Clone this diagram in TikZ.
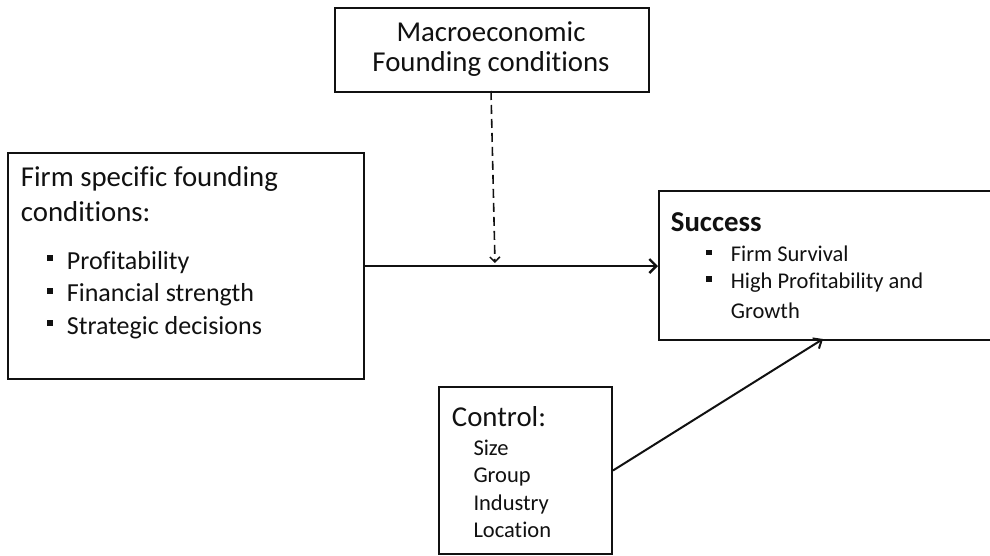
\documentclass[tikz,border=0pt]{standalone}
\usepackage{fontspec}
\setmainfont{Carlito}[Ligatures=NoCommon]
\usetikzlibrary{arrows.meta}
\definecolor{ink}{HTML}{111111}
\begin{document}
\begin{tikzpicture}[x=1pt,y=-1pt,
  box/.style={draw=ink, line width=2pt, rectangle, inner sep=0pt, anchor=north west},
  txt/.style={anchor=base west, inner sep=0pt, text=ink},
  big/.style={font=\fontsize{28.8}{30}\selectfont},
  mid/.style={font=\fontsize{26}{30}\selectfont},
  sml/.style={font=\fontsize{22.5}{27}\selectfont},
  arrmain/.style={draw=ink, line width=2.8pt, -{Straight Barb[length=7pt,width=14pt,line width=2.4pt]}},
  arrdiag/.style={draw=ink, line width=2pt, -{Straight Barb[length=7pt,width=12pt,line width=2pt]}},
  arrdash/.style={draw=ink, line width=1.6pt, dash pattern=on 9pt off 5pt, -{Straight Barb[length=5pt,width=10pt,line width=1.5pt,sep=0pt]}},
]
\useasboundingbox (0,0) rectangle (990,556);
\fill[white] (0,0) rectangle (990,556);

% boxes
\node[box, minimum width=314pt, minimum height=84pt] (macro) at (334,7) {};
\node[box, minimum width=355.5pt, minimum height=226.5pt] (firm) at (7.2,151.8) {};
\node[box, minimum width=334pt, minimum height=149pt] (succ) at (658,190) {};
\node[box, minimum width=173pt, minimum height=167pt] (ctrl) at (438,386) {};

% macro text
\node[txt, anchor=base, big] (m1) at (491,41.7) {Macroeconomic};
\node[txt, anchor=base, big] (m2) at (491,71.7) {Founding conditions};

% firm text
\newcommand{\fbul}{\llap{\rule[8pt]{6pt}{6pt}\hspace{13.7pt}}}
\node[txt, big] (f1) at (20.7,186.7) {Firm specific founding};
\node[txt, big] (f2) at (20.7,221.7) {conditions:};
\node[txt, mid] (f3) at (66.7,269) {\fbul Profitability};
\node[txt, mid] (f4) at (66.7,301.5) {\fbul Financial strength};
\node[txt, mid] (f5) at (66.7,334) {\fbul Strategic decisions};

% success text
\newcommand{\sbul}{\llap{\rule[6.5pt]{5.5pt}{5.5pt}\hspace{19pt}}}
\node[txt, big] (s0) at (670.7,231.7) {\bfseries Success};
\node[txt, sml] (s1) at (730.7,261.5) {\sbul Firm Survival};
\node[txt, sml] (s2) at (730.7,288.3) {\sbul High Profitability and};
\node[txt, sml] (s3) at (730.7,318) {Growth};

% control text
\node[txt, big] (c0) at (451.7,426) {Control:};
\node[txt, sml] (c1) at (473.3,455) {Size};
\node[txt, sml] (c2) at (473.3,482.3) {Group};
\node[txt, sml] (c3) at (473.3,510) {Industry};
\node[txt, sml] (c4) at (473.3,537.3) {Location};

% connectors
\coordinate (mtop) at (491,91);
\coordinate (mjoin) at (495,263);
\coordinate (dtip) at (823,339);
\draw[arrmain] (firm.east) -- (firm.east -| succ.west);
\draw[arrdash] (mtop) -- (mjoin);
\draw[arrdiag] (ctrl.east) -- (dtip);
\end{tikzpicture}
\end{document}
